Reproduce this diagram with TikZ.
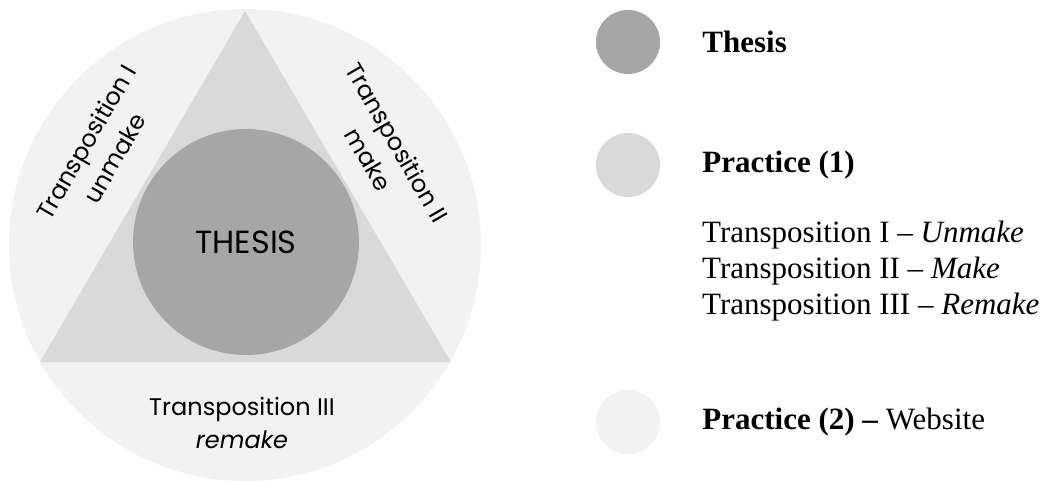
\documentclass[tikz,border=0pt]{standalone}
\usepackage{fontspec}
\setmainfont{Liberation Serif}
\newfontfamily\gothic{Poppins}
\usetikzlibrary{positioning}
\definecolor{thesisgray}{HTML}{A6A6A6}
\definecolor{practicegray}{HTML}{D9D9D9}
\definecolor{webgray}{HTML}{F2F2F2}

\begin{document}
\begin{tikzpicture}[x=1pt, y=-1pt, text=black,
  gothiclabel/.style={font=\gothic\fontsize{24}{33}\selectfont, align=center},
  dot/.style={circle, minimum size=64pt, inner sep=0pt},
  legend/.style={font=\fontsize{31}{36}\selectfont, anchor=west, inner sep=0pt}]
\useasboundingbox (0,0) rectangle (1040,480);

% outer circle = practice (2)
\fill [webgray] (245,245) circle (236);
% triangle = practice (1)
\fill [practicegray] (245,11) -- (40,362) -- (451,362) -- cycle;
% inner circle = thesis
\node (thesis) [circle, fill=thesisgray, minimum size=226pt, inner sep=0pt,
  font=\gothic\fontsize{32}{36}\selectfont] at (246,242) {THESIS};

\node (transI) [gothiclabel, rotate=60] at (100,150) {Transposition I\\unmake};
\node (transII) [gothiclabel, rotate=-60] at (383,151) {Transposition II\\make};
\node (transIII) [gothiclabel] at (242,423) {Transposition III\\\textit{remake}};

% legend
\node (dthesis) [dot, fill=thesisgray] at (628,42) {};
\node (dprac1) [dot, fill=practicegray] at (628,165) {};
\node (dprac2) [dot, fill=webgray] at (628,422) {};

\node (lthesis) [legend, right=42pt of dthesis] {\textbf{Thesis}};
\node (lprac1) [legend, right=42pt of dprac1] {\textbf{Practice (1)}};
\node (ltrans) [legend, align=left] at (702,271)
  {Transposition I -- \textit{Unmake}\\
   Transposition II -- \textit{Make}\\
   Transposition III -- \textit{Remake}};
\node (lprac2) [legend, right=42pt of dprac2] {\textbf{Practice (2) --} Website};
\end{tikzpicture}
\end{document}
